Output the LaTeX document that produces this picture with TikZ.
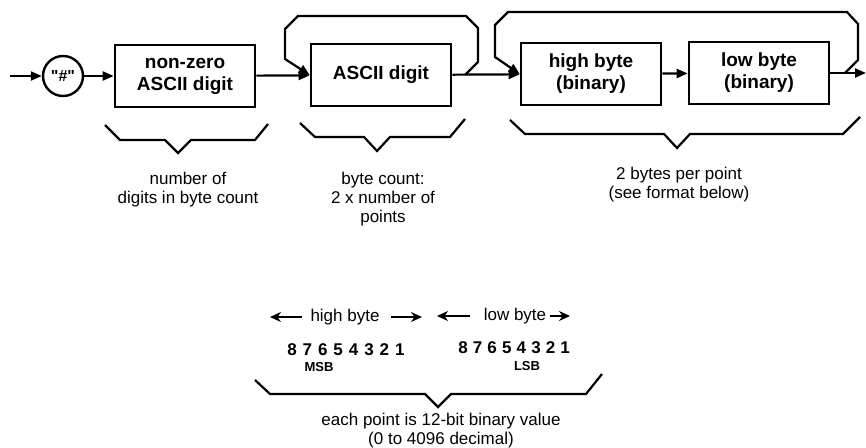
\documentclass[tikz,border=0pt]{standalone}
\usepackage{fontspec}
\setmainfont{Liberation Sans}
\usetikzlibrary{positioning, arrows.meta}

\begin{document}
\begin{tikzpicture}[x=1pt, y=-1pt,
    blk/.style={draw, line width=2.6pt, minimum width=140pt, minimum height=62pt,
                align=center, inner sep=2pt, font=\fontsize{19}{22}\selectfont\bfseries},
    term/.style={draw, circle, line width=2.4pt, minimum size=40pt, inner sep=0pt,
                 font=\fontsize{16}{16}\selectfont\bfseries},
    flow/.style={line width=2.2pt, -{Triangle[length=11pt, width=9pt]}},
    brc/.style={line width=2.2pt},
    note/.style={align=center, font=\fontsize{17}{19}\selectfont},
    dig/.style={inner sep=0pt, font=\fontsize{17}{18}\selectfont\bfseries},
    tag/.style={inner sep=0pt, font=\fontsize{13}{14}\selectfont\bfseries},
    dimarr/.style={line width=1.6pt, -{Stealth[length=11pt, width=10pt]}}]
    \useasboundingbox (0,0) rectangle (866,447);
    \node[term] (hash) at (63,76) {\textquotedbl\#\textquotedbl};
    \node[blk] (nz) at (185,76) {non-zero\\ASCII digit};
    \node[blk] (ad) at (381,75) {ASCII digit};
    \node[blk] (hb) at (591,74) {high byte\\(binary)};
    \node[blk] (lb) at (759,73) {low byte\\(binary)};
    \coordinate (in) at (10,76);
    \coordinate (out) at (866,73);
    \coordinate (j1) at (465,75);
    \coordinate (j2) at (845,73);
    \draw[flow] (in) -- (hash);
    \draw[flow] (hash) -- (nz);
    \draw[flow] (nz) -- (ad);
    \draw[flow] (ad) -- (hb);
    \draw[flow] (hb) -- (lb);
    \draw[flow] (lb) -- (out);
    \draw[flow] (j1) -- (478,62) -- (478,28) -- (466,16) -- (298,16) -- (285,29) -- (285,59) -- (ad.west);
    \draw[flow] (j2) -- (858,60) -- (858,24) -- (847,12) -- (508,12) -- (495,25) -- (495,57) -- (hb.west);
    \draw[brc] (105,125) -- (120,140) -- (165,140) -- (178,153) -- (191,140) -- (255,140) -- (268,124);
    \draw[brc] (300,123) -- (315,137) -- (364,137) -- (377,151) -- (390,137) -- (450,137) -- (465,119);
    \draw[brc] (510,120) -- (525,134) -- (664,134) -- (677,148) -- (690,134) -- (843,134) -- (860,117);
    \draw[brc] (255,380) -- (270,394) -- (425,394) -- (438,407) -- (451,394) -- (586,394) -- (602,374);
    \node[note] (n1) at (188,190) {number of\\digits in byte count};
    \node[note] (n2) at (383,199) {byte count:\\2 x number of\\points};
    \node[note] (n3) at (679,185) {2 bytes per point\\(see format below)};
    \node[note] (n4) at (441,431) {each point is 12-bit binary value\\(0 to 4096 decimal)};
    \node[note] (hbt) at (345,317) {high byte};
    \node[note] (lbt) at (515,316) {low byte};
    \coordinate (hl) at (270,317);
    \coordinate (hr) at (422,317);
    \coordinate (ll) at (437,316);
    \coordinate (lr) at (570,316);
    \draw[dimarr, shorten <=5pt] (hbt) -- (hl);
    \draw[dimarr, shorten <=8pt] (hbt) -- (hr);
    \draw[dimarr, shorten <=10pt] (lbt) -- (ll);
    \draw[dimarr] (lbt) -- (lr);
    \foreach \d [count=\i from 0] in {8,7,6,5,4,3,2,1} {
      \node[dig] (hd\d) at (292+15.4*\i,350) {\d};
      \node[dig] (ld\d) at (463+14.6*\i,348) {\d};
    }
    \node[tag] (msb) at (319,367) {MSB};
    \node[tag] (lsb) at (527,366) {LSB};
\end{tikzpicture}
\end{document}
